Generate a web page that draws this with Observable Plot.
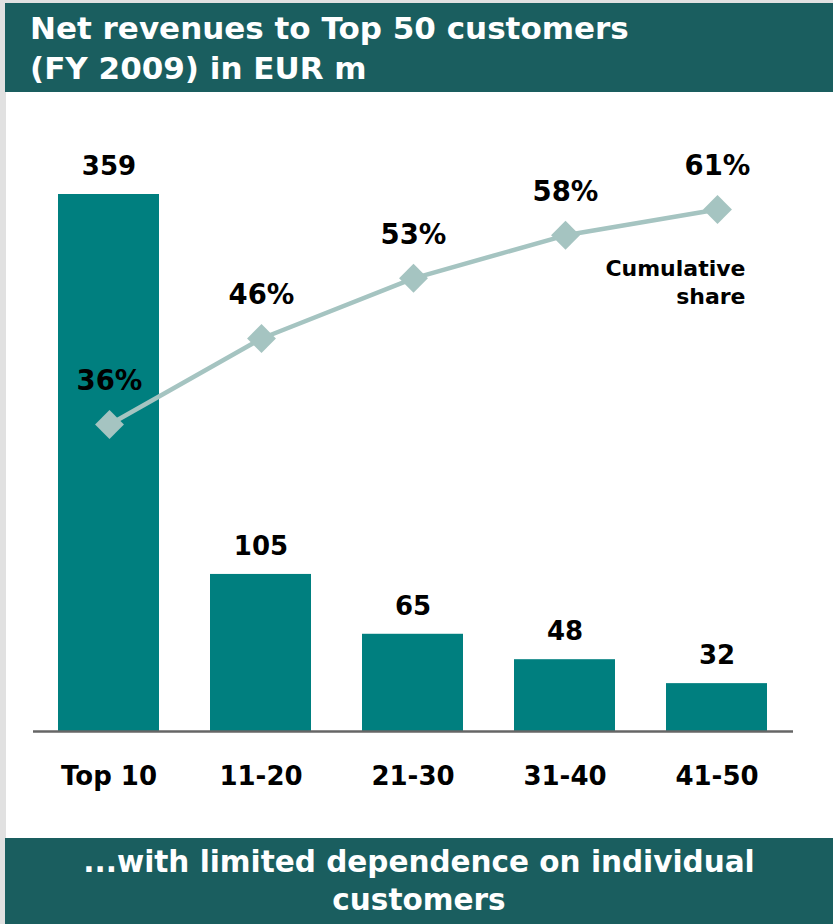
<!DOCTYPE html>
<html>
<head>
<meta charset="utf-8">
<script src="https://cdn.jsdelivr.net/npm/d3@7"></script>
<script src="https://cdn.jsdelivr.net/npm/@observablehq/plot@0.6"></script>
<style>
  html, body { margin: 0; padding: 0; background: #fff; }
  body { width: 833px; height: 924px; position: relative; overflow: hidden; font-family: "DejaVu Sans", sans-serif; }
  #strip { position: absolute; left: 0; top: 0; width: 6px; height: 924px; background: #e1e1e1; }
  #topstrip { position: absolute; left: 0; top: 0; width: 833px; height: 3px; background: #e1e1e1; }
  #title { position: absolute; left: 5px; top: 3px; width: 828px; height: 89px; background: #1a5e5f; color: #fff;
           font-weight: bold; font-size: 31px; line-height: 40px; box-sizing: border-box; padding: 5px 0 0 25px; }
  #footer { position: absolute; left: 5px; top: 838px; width: 828px; height: 86px; background: #1a5e5f; color: #fff;
            font-weight: bold; font-size: 29.5px; line-height: 38px; text-align: center; box-sizing: border-box; padding-top: 5px; }
  .layer { position: absolute; left: 6px; top: 92px; }
  .layer svg { background: transparent !important; }
</style>
</head>
<body>
<div id="strip"></div>
<div id="topstrip"></div>
<div id="title">Net revenues to Top 50 customers<br>(FY 2009) in EUR m</div>
<div id="bars" class="layer"></div>
<div id="share" class="layer"></div>
<div id="footer">...with limited dependence on individual<br>customers</div>
<script>
const categories = ["Top 10", "11-20", "21-30", "31-40", "41-50"];
const revenues = [359, 105, 65, 48, 32];
const cumulativeShare = [36, 46, 53, 58, 61];
const shareLabels = ["36%", "46%", "53%", "58%", "61%"];
const seriesLabel = "Cumulative\nshare";

const barColor = "#007f7f";
const lineColor = "#a5c4c1";
const W = 827, H = 746;

const barData = categories.map((c, i) => ({cat: c, value: revenues[i]}));
const shareData = categories.map((c, i) => ({cat: c, share: cumulativeShare[i], label: shareLabels[i]}));

const xOpts = {domain: categories, paddingInner: 0.335, paddingOuter: 0.1675, axis: null};

const barsPlot = Plot.plot({
  width: W, height: H,
  marginLeft: 27, marginRight: 40, marginTop: 102, marginBottom: 107,
  style: {background: "transparent", fontFamily: "DejaVu Sans, sans-serif", overflow: "visible"},
  x: xOpts,
  y: {domain: [0, 359], axis: null},
  marks: [
    Plot.barY(barData, {x: "cat", y: "value", fill: barColor}),
    Plot.ruleY([0], {stroke: "#666", strokeWidth: 2.5}),
    Plot.text(barData, {x: "cat", y: "value", text: d => String(d.value), dy: -28, fontSize: 26, fontWeight: "bold", fill: "#000", lineAnchor: "middle"}),
    Plot.axisX({tickSize: 0, tickPadding: 35, fontSize: 26, fontWeight: "bold", fill: "#000", label: null})
  ]
});
document.getElementById("bars").appendChild(barsPlot);

const sharePlot = Plot.plot({
  width: W, height: H,
  marginLeft: 27, marginRight: 40, marginTop: 117, marginBottom: 104.4,
  style: {background: "transparent", fontFamily: "DejaVu Sans, sans-serif", overflow: "visible"},
  x: xOpts,
  y: {domain: [0, 61], axis: null},
  marks: [
    Plot.line(shareData, {x: "cat", y: "share", stroke: lineColor, strokeWidth: 4.5}),
    Plot.dot(shareData, {x: "cat", y: "share", symbol: "diamond2", r: 13, fill: lineColor, stroke: "none"}),
    Plot.text(shareData, {x: "cat", y: "share", text: "label", dy: -43, fontSize: 27.5, fontWeight: "bold", fill: "#000", lineAnchor: "middle"}),
    Plot.text([shareData[shareData.length - 1]], {x: "cat", y: "share", text: () => seriesLabel, dx: 28, dy: 72, textAnchor: "end", lineAnchor: "middle", lineHeight: 1.27, fontSize: 22, fontWeight: "bold", fill: "#000"})
  ]
});
document.getElementById("share").appendChild(sharePlot);
</script>
</body>
</html>
